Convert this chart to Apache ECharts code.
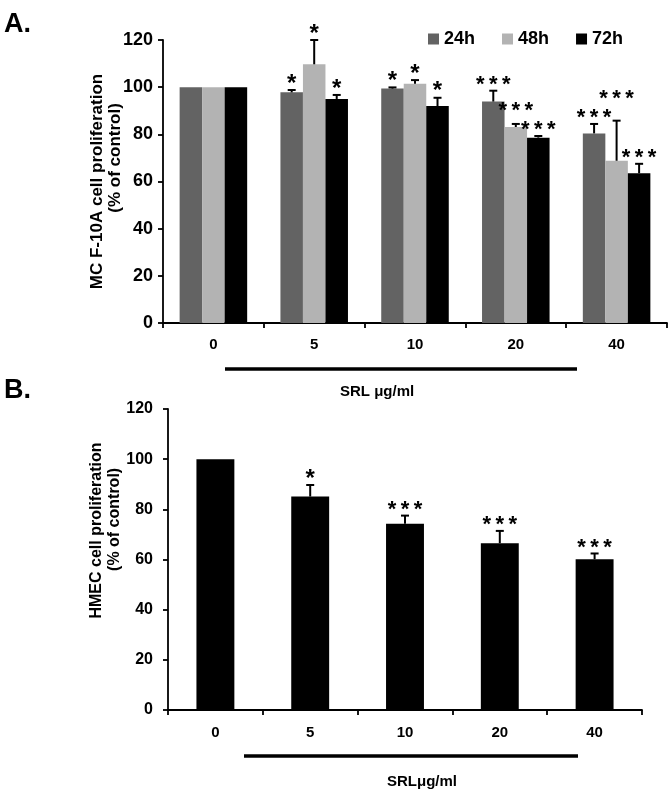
<!DOCTYPE html>
<html>
<head>
<meta charset="utf-8">
<script src="https://cdn.jsdelivr.net/npm/echarts@6/dist/echarts.min.js"></script>
<style>html,body{margin:0;padding:0;background:#fff}#c{width:672px;height:794px}</style>
</head>
<body>
<div id="c"></div>
<script>
// ---- data ----
var categories = ['0', '5', '10', '20', '40'];
var seriesNames = ['24h', '48h', '72h'];
var a24 = [100, 97.8, 99.4, 93.9, 80.4];
var a24err = [0, 1.0, 0.5, 4.6, 4.0];
var a48 = [100, 109.7, 101.5, 83.1, 68.8];
var a48err = [0, 10.3, 1.5, 1.3, 17.0];
var a72 = [100, 95.0, 92.0, 78.6, 63.5];
var a72err = [0, 1.7, 3.5, 0.7, 4.0];
var a24sig = ['', '*', '*', '***', '***'];
var a48sig = ['', '*', '*', '***', '***'];
var a72sig = ['', '*', '*', '***', '***'];
var hmec = [100, 85.1, 74.3, 66.5, 60.1];
var hmecErr = [0, 4.6, 3.2, 4.9, 2.3];
var hmecSig = ['', '*', '***', '***', '***'];
var yTicks = [0, 20, 40, 60, 80, 100, 120];

var FONT = 'Liberation Sans, Arial, sans-serif';
var colors = ['#636363', '#b3b3b3', '#000000'];
var GAP_A = 0.33, GAP_B = 0.60;

function sigText(s) { return s.split('').join('\u2009'); }
function sigWidth(s) { return s.length === 1 ? 10 : 34; }

// group = {vals:[...], errs:[...], sigs:[...]} per slot
function errSeries(gridIdx, group, slot, gap) {
  var n = group.length;
  var g = group[slot];
  return {
    type: 'custom',
    xAxisIndex: gridIdx, yAxisIndex: gridIdx,
    silent: true,
    z: 5,
    data: g.vals.map(function (v, i) { return [i, v, g.errs[i]]; }),
    renderItem: function (params, api) {
      var i = params.dataIndex;
      var band = api.size([1, 0])[0];
      var bw = band * (1 - gap) / n;
      // label positions for every slot in the category, with simple overlap avoidance
      var ly = [], tops = [];
      for (var j = 0; j < n; j++) {
        var t = api.coord([i, group[j].vals[i] + group[j].errs[i]])[1];
        tops.push(t);
        ly.push(t - 6);
      }
      for (var pass = 0; pass < 2; pass++) {
        for (var k = n - 1; k > 0; k--) {
          var sa = group[k - 1].sigs[i], sb = group[k].sigs[i];
          if (!sa || !sb) continue;
          if ((sigWidth(sa) + sigWidth(sb)) / 2 <= bw) continue;
          if (Math.abs(ly[k - 1] - ly[k]) < 16) {
            if (ly[k - 1] < ly[k]) ly[k - 1] = ly[k] - 19; else ly[k] = ly[k - 1] - 19;
          }
        }
      }
      var off = (slot - (n - 1) / 2) * bw;
      var base = api.coord([i, g.vals[i]]);
      var x = base[0] + off;
      var top = tops[slot];
      var children = [];
      if (g.errs[i] > 0) {
        children.push({ type: 'line', shape: { x1: x, y1: base[1], x2: x, y2: top }, style: { stroke: '#000', lineWidth: 2 } });
        children.push({ type: 'line', shape: { x1: x - 4, y1: top, x2: x + 4, y2: top }, style: { stroke: '#000', lineWidth: 2 } });
      }
      var s = g.sigs[i];
      if (s) {
        children.push({ type: 'text', x: x, y: ly[slot], style: {
          text: sigText(s), fill: '#000', font: 'bold ' + (s.length === 1 ? 24 : 22) + 'px ' + FONT,
          align: 'center', verticalAlign: 'middle' } });
      }
      return { type: 'group', children: children };
    }
  };
}

var groupA = [
  { vals: a24, errs: a24err, sigs: a24sig },
  { vals: a48, errs: a48err, sigs: a48sig },
  { vals: a72, errs: a72err, sigs: a72sig }
];
var groupB = [{ vals: hmec, errs: hmecErr, sigs: hmecSig }];

function xAxisDef(gi, margin) {
  return { gridIndex: gi, type: 'category', data: categories,
    axisLine: { lineStyle: { color: '#000', width: 1.8 } },
    axisTick: { show: true, length: 5, lineStyle: { color: '#000', width: 1.8 } },
    axisLabel: { color: '#000', fontWeight: 'bold', fontSize: 15, margin: margin, fontFamily: FONT } };
}
function yAxisDef(gi, name, gap, nameStyle, fs, margin) {
  return { gridIndex: gi, type: 'value', min: yTicks[0], max: yTicks[yTicks.length - 1], interval: yTicks[1] - yTicks[0],
    name: name, nameLocation: 'middle', nameGap: gap, nameTextStyle: nameStyle, nameMoveOverlap: false,
    splitLine: { show: false },
    axisLine: { show: true, lineStyle: { color: '#000', width: 1.8 } },
    axisTick: { show: true, length: 5, lineStyle: { color: '#000', width: 1.8 } },
    axisLabel: { color: '#000', fontWeight: 'bold', fontSize: fs, margin: margin, fontFamily: FONT } };
}

var option = {
  animation: false,
  textStyle: { fontFamily: FONT },
  legend: {
    data: seriesNames,
    left: 428, top: 30, padding: 0,
    itemWidth: 11, itemHeight: 11, itemGap: 27,
    icon: 'rect',
    textStyle: { fontSize: 18, fontWeight: 'bold', color: '#000', fontFamily: FONT }
  },
  grid: [
    { left: 163, top: 40, width: 504, height: 283 },
    { left: 168, top: 409, width: 474, height: 301 }
  ],
  xAxis: [xAxisDef(0, 14), xAxisDef(1, 15)],
  yAxis: [
    yAxisDef(0, 'MC F-10A cell proliferation\n' + '\u00a0'.repeat(10) + '(% of control)', 39,
      { color: '#000', fontWeight: 'bold', fontSize: 17, lineHeight: 18, fontFamily: FONT }, 18, 10),
    yAxisDef(1, 'HMEC cell proliferation\n' + '\u00a0'.repeat(5) + '(% of control)', 44,
      { color: '#000', fontWeight: 'bold', fontSize: 16, lineHeight: 18, fontFamily: FONT, padding: [0, 0, 0, 58] }, 16, 15)
  ],
  series: [
    { name: seriesNames[0], type: 'bar', xAxisIndex: 0, yAxisIndex: 0, data: a24, itemStyle: { color: colors[0] }, barGap: '0%', barCategoryGap: (GAP_A * 100) + '%' },
    { name: seriesNames[1], type: 'bar', xAxisIndex: 0, yAxisIndex: 0, data: a48, itemStyle: { color: colors[1] }, barGap: '0%', barCategoryGap: (GAP_A * 100) + '%' },
    { name: seriesNames[2], type: 'bar', xAxisIndex: 0, yAxisIndex: 0, data: a72, itemStyle: { color: colors[2] }, barGap: '0%', barCategoryGap: (GAP_A * 100) + '%' },
    errSeries(0, groupA, 0, GAP_A),
    errSeries(0, groupA, 1, GAP_A),
    errSeries(0, groupA, 2, GAP_A),
    { name: 'HMEC', type: 'bar', xAxisIndex: 1, yAxisIndex: 1, data: hmec, itemStyle: { color: '#000' }, barCategoryGap: (GAP_B * 100) + '%' },
    errSeries(1, groupB, 0, GAP_B)
  ],
  graphic: [
    { type: 'text', left: 4, top: 11, style: { text: 'A.', font: 'bold 27px ' + FONT, fill: '#000' } },
    { type: 'text', left: 4, top: 377, style: { text: 'B.', font: 'bold 27px ' + FONT, fill: '#000' } },
    { type: 'line', shape: { x1: 225, y1: 369, x2: 577, y2: 369 }, style: { stroke: '#000', lineWidth: 3.5 } },
    { type: 'text', left: 340, top: 384, style: { text: 'SRL μg/ml', font: 'bold 15px ' + FONT, fill: '#000' } },
    { type: 'line', shape: { x1: 244, y1: 756, x2: 578, y2: 756 }, style: { stroke: '#000', lineWidth: 3.5 } },
    { type: 'text', left: 387, top: 774, style: { text: 'SRLμg/ml', font: 'bold 15px ' + FONT, fill: '#000' } }
  ]
};
var chart = echarts.init(document.getElementById('c'), null, { renderer: 'canvas' });
chart.setOption(option);
</script>
</body>
</html>
